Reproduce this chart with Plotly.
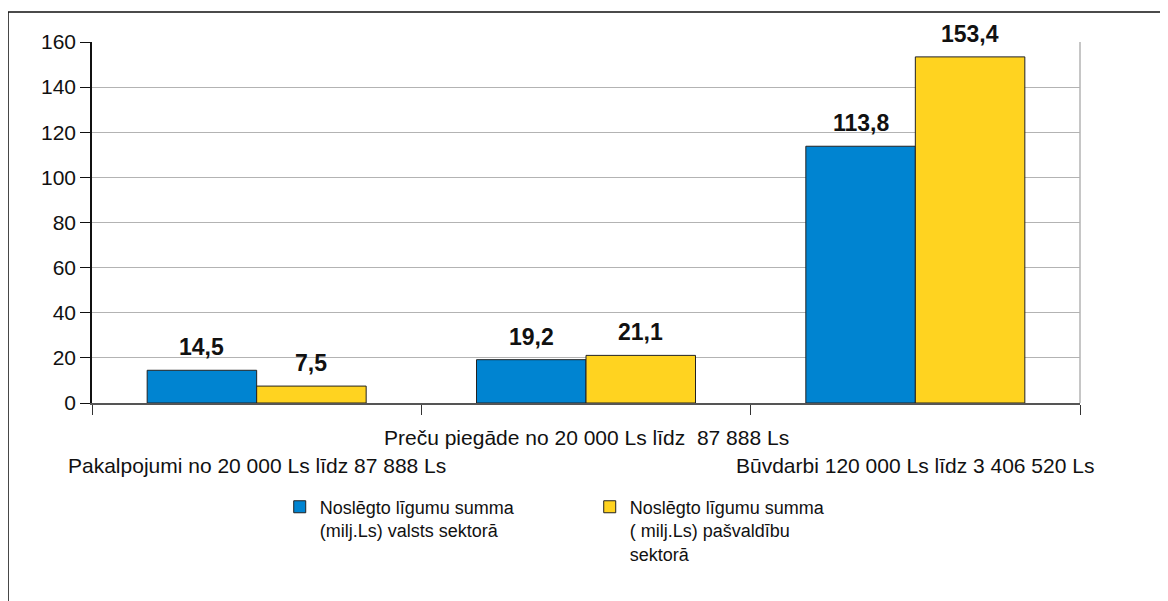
import plotly.graph_objects as go

categories = [
    "Pakalpojumi no 20 000 Ls līdz 87 888 Ls",
    "Preču piegāde no 20 000 Ls līdz  87 888 Ls",
    "Būvdarbi 120 000 Ls līdz 3 406 520 Ls",
]
valsts = [14.5, 19.2, 113.8]
pasvaldibu = [7.5, 21.1, 153.4]
series_names = [
    "Noslēgto līgumu summa<br>(milj.Ls) valsts sektorā",
    "Noslēgto līgumu summa<br>( milj.Ls) pašvaldību<br>sektorā",
]
y_ticks = [0, 20, 40, 60, 80, 100, 120, 140, 160]

FONT = "Liberation Sans, Arial, sans-serif"
BAR_SHIFT = 54.75  # px from category centre to each bar centre

fig = go.Figure()
for vals, name, color in [(valsts, series_names[0], "#0084d1"),
                          (pasvaldibu, series_names[1], "#ffd320")]:
    fig.add_trace(go.Bar(
        x=categories, y=vals, name=name,
        marker=dict(color=color, line=dict(color="#222222", width=1)),
        cliponaxis=False,
    ))

# value labels above bars
for vals, shift in [(valsts, -BAR_SHIFT), (pasvaldibu, BAR_SHIFT)]:
    for cat, v in zip(categories, vals):
        fig.add_annotation(x=cat, y=v, xref="x", yref="y",
                           text=f"{v:.1f}".replace(".", ","),
                           showarrow=False, xshift=shift, yanchor="bottom", yshift=8,
                           font=dict(family=FONT, size=23, color="#111111", weight="bold"))

fig.update_layout(
    width=1160, height=593,
    margin=dict(l=84, r=88, t=34, b=198),
    paper_bgcolor="white", plot_bgcolor="white",
    font=dict(family=FONT, size=21, color="#111111"),
    separators=", ",
    barmode="group", bargap=0.335, bargroupgap=0,
    legend=dict(orientation="h", x=0.19, xanchor="left", y=-0.237, yanchor="top",
                valign="top", font=dict(size=18), entrywidth=265,
                itemwidth=30, tracegroupgap=0),
    showlegend=True,
)
fig.update_xaxes(
    type="category", tickson="boundaries", ticks="outside", ticklen=10,
    tickcolor="#333333", showticklabels=False,
    showline=True, linecolor="#555555", linewidth=1.5,
    showgrid=False, range=[-0.5, 2.5],
)
fig.update_yaxes(
    range=[0, 160], tickvals=y_ticks, ticks="outside", ticklen=10,
    tickcolor="#111111", showline=True, linecolor="#111111", linewidth=1.5,
    gridcolor="#b3b3b3", zeroline=False, tickfont=dict(size=21),
)

# right edge of plot area
fig.add_shape(type="line", xref="paper", yref="paper", x0=1, x1=1, y0=0, y1=1,
              line=dict(color="#b3b3b3", width=1.5))
# staggered category labels
for i, cat in enumerate(categories):
    fig.add_annotation(x=cat, y=0, xref="x", yref="paper", text=cat,
                       showarrow=False, yanchor="top",
                       yshift=-21 if i == 1 else -49,
                       font=dict(size=21))
# outer frame
fig.add_shape(type="rect", xref="paper", yref="paper",
              x0=-0.085, x1=1.5, y0=-1.0, y1=1.083,
              line=dict(color="#111111", width=1.5), layer="below")

fig.write_html("out.html")
